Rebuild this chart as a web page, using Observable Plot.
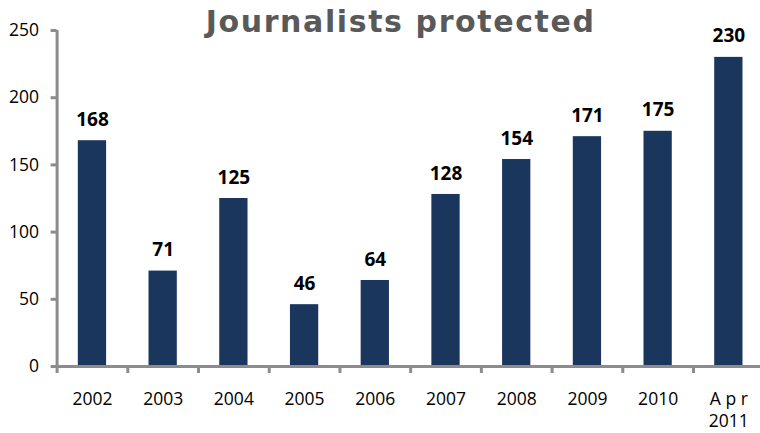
<!DOCTYPE html>
<html>
<head>
<meta charset="utf-8">
<script src="https://cdn.jsdelivr.net/npm/d3@7"></script>
<script src="https://cdn.jsdelivr.net/npm/@observablehq/plot@0.6"></script>
<style>
  html, body { margin: 0; padding: 0; background: #fff; }
  #chart svg { display: block; }
</style>
</head>
<body>
<div id="chart"></div>
<script>
const categories = ["2002", "2003", "2004", "2005", "2006", "2007", "2008", "2009", "2010", "Apr 2011"];
const values = [168, 71, 125, 46, 64, 128, 154, 171, 175, 230];
const yTicks = [0, 50, 100, 150, 200, 250];
const titleText = "Journalists protected";

const data = categories.map((c, i) => ({category: c, value: values[i]}));

const axisGray = "#8c8c8c";
const font = "'Open Sans', 'Noto Sans', sans-serif";
const halfStep = -35.35;

const chart = Plot.plot({
  width: 760,
  height: 433,
  marginTop: 30,
  marginBottom: 67,
  marginLeft: 56.6,
  marginRight: -3.7,
  style: {fontFamily: font, background: "#fff", color: "#000"},
  x: {domain: categories, paddingInner: 0.6, paddingOuter: 0.3, round: false, label: null},
  y: {domain: [0, 250], label: null},
  marks: [
    Plot.barY(data, {x: "category", y: "value", fill: "#1b365d"}),
    Plot.text(data, {
      x: "category", y: "value", text: d => String(d.value),
      dy: -21, fontSize: 19, fontWeight: "bold", fill: "#000"
    }),
    Plot.axisY({
      ticks: yTicks, tickSize: 6, tickPadding: 12, stroke: axisGray, strokeWidth: 3,
      fontSize: 17.5, fill: "#000", label: null
    }),
    Plot.ruleX([categories[0]], {x: d => d, y1: 0, y2: 250, dx: halfStep, stroke: axisGray, strokeWidth: 3}),
    Plot.ruleY([0], {stroke: axisGray, strokeWidth: 3}),
    Plot.axisX({
      tickSize: 7, tickFormat: () => "", dx: halfStep, stroke: axisGray, strokeWidth: 3, label: null
    }),
    Plot.axisX({
      tickSize: 0, tickPadding: 22, fontSize: 17.5, fill: "#000", lineHeight: 1.3,
      tickFormat: d => d === "Apr 2011" ? "A p r\n2011" : d, label: null
    }),
    Plot.text([titleText], {
      frameAnchor: "top", text: d => d, dx: -10, dy: -20,
      fontSize: 30, fontWeight: "bold", fill: "#595959", lineAnchor: "top",
      fontFamily: "'DejaVu Sans', sans-serif"
    })
  ]
});
d3.select(chart).selectAll("text")
  .filter(function () { return this.textContent === titleText; })
  .style("letter-spacing", "1.6px");
document.getElementById("chart").appendChild(chart);
</script>
</body>
</html>
